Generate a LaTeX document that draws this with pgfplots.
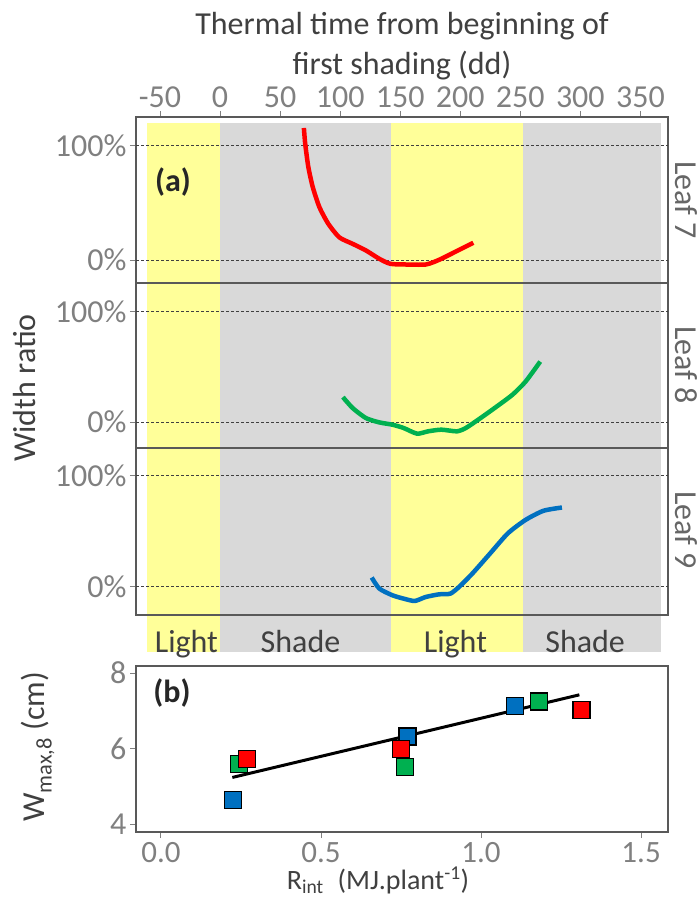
\documentclass[border=0pt]{standalone}
\usepackage{fontspec}
\setmainfont{Carlito}
\usepackage{pgfplots}
\pgfplotsset{compat=1.18}

\definecolor{bandyellow}{RGB}{255,255,153}
\definecolor{bandgrey}{RGB}{217,217,217}
\definecolor{leafred}{RGB}{255,0,0}
\definecolor{leafgreen}{RGB}{0,176,80}
\definecolor{leafblue}{RGB}{0,112,192}
\definecolor{txtdark}{RGB}{64,64,64}
\definecolor{txtgrey}{RGB}{128,128,128}
\definecolor{framegrey}{RGB}{89,89,89}

\newcommand{\bigfont}{\fontsize{32}{38}\selectfont}

\pgfplotsset{
  panel/.style={
    scale only axis, width=532pt, anchor=north west,
    xmin=-70, xmax=373, clip=false,
    axis line style={framegrey, line width=1.3pt},
    tick style={txtgrey, line width=1pt},
    tick align=outside, major tick length=6pt,
    ticklabel style={font=\bigfont, text=txtgrey},
    /pgf/number format/assume math mode=true,
    ytick={0,1}, yticklabels={0\%,100\%}, ytick pos=left,
    xtick=\empty,
  },
  curve/.style={line width=4.5pt, smooth, tension=0.4, no markers},
  zero/.style={txtdark, line width=1pt, dash pattern=on 3pt off 2pt, forget plot},
}

\begin{document}
\begin{tikzpicture}
\useasboundingbox (0pt,0pt) rectangle (700pt,-901pt);

% light / shade bands behind panel (a)
\begin{axis}[
  at={(136pt,-117pt)}, anchor=north west, scale only axis,
  width=532pt, height=535pt, xmin=-70, xmax=373, ymin=-535, ymax=0,
  hide axis, clip=false]
  \addplot[fill=bandyellow, draw=none] coordinates {(-61,-6) (0,-6) (0,-535) (-61,-535)} -- cycle;
  \addplot[fill=bandgrey, draw=none] coordinates {(0,-6) (142,-6) (142,-535) (0,-535)} -- cycle;
  \addplot[fill=bandyellow, draw=none] coordinates {(142,-6) (252,-6) (252,-535) (142,-535)} -- cycle;
  \addplot[fill=bandgrey, draw=none] coordinates {(252,-6) (367.5,-6) (367.5,-535) (252,-535)} -- cycle;
  \node[anchor=base, text=txtdark, font=\bigfont] at (axis cs:-28,-535) {Light};
  \node[anchor=base, text=txtdark, font=\bigfont] at (axis cs:67,-535) {Shade};
  \node[anchor=base, text=txtdark, font=\bigfont] at (axis cs:196,-535) {Light};
  \node[anchor=base, text=txtdark, font=\bigfont] at (axis cs:304,-535) {Shade};
\end{axis}

% leaf 7
\begin{axis}[panel, at={(136pt,-117pt)}, height=166pt, ymin=-0.20, ymax=1.254,
  xtick={-50,0,50,100,150,200,250,300,350}, xtick pos=upper, xticklabel pos=upper]
  \addplot[zero] coordinates {(-70,0) (373,0)};
  \addplot[zero] coordinates {(-70,1) (373,1)};
  \addplot[curve, leafred] coordinates {
    (69.8,1.158) (70.9,1.02) (73.5,0.816) (77.2,0.64) (82.7,0.465) (90.1,0.319)
    (99.3,0.20) (110.4,0.143) (121.5,0.085) (132.6,0.012) (141.8,-0.032)
    (154.7,-0.038) (171.3,-0.038) (182.4,0.003) (195.3,0.07) (210.9,0.152)};
\end{axis}

% leaf 8
\begin{axis}[panel, at={(136pt,-283pt)}, height=165pt, ymin=-0.235, ymax=1.26]
  \addplot[zero] coordinates {(-70,0) (373,0)};
  \addplot[zero] coordinates {(-70,1) (373,1)};
  \addplot[curve, leafgreen] coordinates {
    (102.3,0.226) (110.4,0.127) (121.5,0.036) (132.6,-0.003) (143.6,-0.024)
    (152.9,-0.054) (164.0,-0.105) (173.2,-0.084) (184.3,-0.069) (197.2,-0.084)
    (204.6,-0.054) (215.7,0.027) (228.6,0.127) (243.4,0.247) (254.4,0.367)
    (266.6,0.548)};
\end{axis}

% leaf 9
\begin{axis}[panel, at={(136pt,-448pt)}, height=167pt, ymin=-0.26, ymax=1.25]
  \addplot[zero] coordinates {(-70,0) (373,0)};
  \addplot[zero] coordinates {(-70,1) (373,1)};
  \addplot[curve, leafblue] coordinates {
    (126.3,0.079) (132.6,-0.021) (143.6,-0.082) (152.9,-0.112) (162.1,-0.133)
    (171.3,-0.097) (182.4,-0.073) (191.7,-0.067) (199.0,-0.006) (210.1,0.115)
    (224.9,0.297) (239.7,0.479) (254.4,0.60) (269.2,0.682) (284.7,0.712)};
\end{axis}

% panel (b)
\begin{axis}[
  at={(136pt,-666pt)}, anchor=north west, scale only axis,
  width=532pt, height=166pt,
  xmin=-0.078, xmax=1.584, ymin=3.79, ymax=8.19,
  xtick={0,0.5,1,1.5}, xticklabels={0.0,0.5,1.0,1.5}, ytick={4,6,8},
  xtick pos=lower, ytick pos=left, clip=false,
  axis line style={framegrey, line width=1.3pt},
  tick style={txtgrey, line width=1pt},
  tick align=outside, major tick length=6pt,
  ticklabel style={font=\bigfont, text=txtgrey},
  xticklabel style={font=\fontsize{31}{36}\selectfont, inner sep=0pt, yshift=-4pt},
  /pgf/number format/assume math mode=true]
  \addplot[black, line width=3pt, no markers] coordinates {(0.223,5.236) (1.307,7.426)};
  \addplot[only marks, mark=square*, mark size=8.5pt, mark options={draw=black, line width=1.2pt, fill=leafblue}]
    coordinates {(0.225,4.64) (0.770,6.32) (1.105,7.13)};
  \addplot[only marks, mark=square*, mark size=8.5pt, mark options={draw=black, line width=1.2pt, fill=leafgreen}]
    coordinates {(0.244,5.60) (0.763,5.51) (1.182,7.25)};
  \addplot[only marks, mark=square*, mark size=8.5pt, mark options={draw=black, line width=1.2pt, fill=leafred}]
    coordinates {(0.268,5.72) (0.749,5.99) (1.314,7.03)};
\end{axis}

% texts
\node[anchor=base, text=txtdark, font=\bigfont] at (402pt,-35pt) {Thermal time from beginning of};
\node[anchor=base, text=txtdark, font=\bigfont] at (402pt,-75pt) {first shading (dd)};
\node[rotate=90, text=txtdark, font=\bigfont] at (25pt,-388pt) {Width ratio};
\node[rotate=-90, text=txtdark!80, font=\bigfont] at (686pt,-200pt) {Leaf 7};
\node[rotate=-90, text=txtdark!80, font=\bigfont] at (686pt,-365pt) {Leaf 8};
\node[rotate=-90, text=txtdark!80, font=\bigfont] at (686pt,-530pt) {Leaf 9};
\node[text=black!85, font=\bigfont\bfseries] at (173pt,-182pt) {(a)};
\node[text=black!85, font=\bigfont\bfseries] at (172pt,-693pt) {(b)};
\node[rotate=90, text=txtdark, font=\bigfont] at (38pt,-747pt) {W\textsubscript{max,8} (cm)};
\node[anchor=base, inner sep=0pt, text=txtdark, font=\fontsize{28}{34}\selectfont] at (378pt,-889pt) {R\textsubscript{int}\enspace(MJ.plant\textsuperscript{-1})};
\end{tikzpicture}
\end{document}
